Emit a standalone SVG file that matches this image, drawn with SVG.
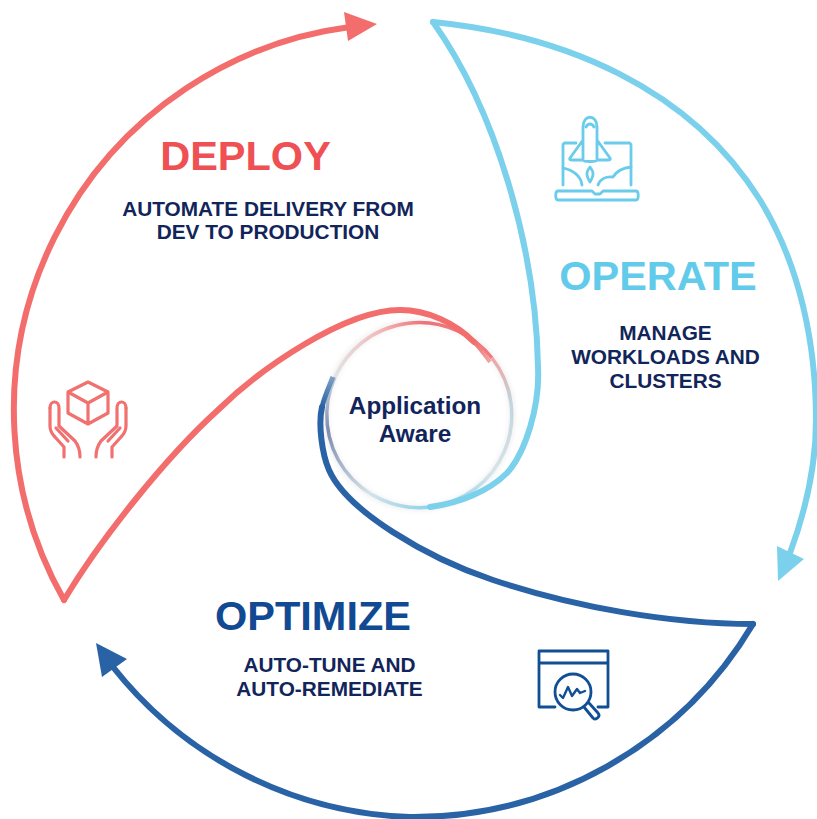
<svg xmlns="http://www.w3.org/2000/svg" width="817" height="819" viewBox="0 0 817 819">
<style>
.c{fill:none;stroke-width:6;stroke-linejoin:round;stroke-linecap:round}
.i{fill:none;stroke-width:2.8;stroke-linecap:round;stroke-linejoin:round}
.t{font-family:"Liberation Sans",Arial,sans-serif;font-weight:700;text-anchor:middle}
.h{font-size:41.5px}
.s{font-size:20.8px;fill:#12255a}
.r{fill:none;stroke-width:3.5}
</style>
<defs>
<linearGradient id="gr" gradientUnits="userSpaceOnUse" x1="492" y1="358" x2="335" y2="377"><stop offset="0" stop-color="#ef7a7c"/><stop offset=".4" stop-color="#ee7276"/><stop offset=".7" stop-color="#f2bcbc"/><stop offset="1" stop-color="#e3e3e6"/></linearGradient>
<linearGradient id="gl" gradientUnits="userSpaceOnUse" x1="492" y1="358" x2="430" y2="507"><stop offset="0" stop-color="#f0a5a8"/><stop offset=".2" stop-color="#c2d5dc"/><stop offset=".65" stop-color="#d7e4ea"/><stop offset="1" stop-color="#86d2ea"/></linearGradient>
<linearGradient id="gb" gradientUnits="userSpaceOnUse" x1="440" y1="507" x2="327" y2="385"><stop offset="0" stop-color="#86d2ea"/><stop offset=".35" stop-color="#d5e3ea"/><stop offset=".8" stop-color="#7d8cb0"/><stop offset="1" stop-color="#c9d3dd"/></linearGradient>
<linearGradient id="gd" gradientUnits="userSpaceOnUse" x1="322" y1="407" x2="333" y2="377"><stop offset="0" stop-color="#2a62a6"/><stop offset="1" stop-color="#7fa0c4"/></linearGradient>
<linearGradient id="gt" gradientUnits="userSpaceOnUse" x1="474" y1="342" x2="490" y2="362"><stop offset="0" stop-color="#f26d6c"/><stop offset="1" stop-color="#f3a5a6"/></linearGradient>
<filter id="soft" x="-10%" y="-10%" width="120%" height="120%"><feGaussianBlur stdDeviation=".7"/></filter>
<filter id="halo" x="-10%" y="-10%" width="120%" height="120%"><feGaussianBlur stdDeviation="2"/></filter>
</defs>
<g id="hub-ring">
<circle cx="419" cy="415" r="93" fill="none" stroke="#000" stroke-opacity=".05" stroke-width="7" filter="url(#halo)"/>
<g filter="url(#soft)">
<path class="r" stroke="url(#gr)" d="M492 358A92.5 92.5 0 0 0 335 377"/>
<path class="r" stroke="url(#gl)" d="M492 358A92.5 92.5 0 0 1 430 507"/>
<path class="r" stroke="url(#gb)" d="M430 507A92.5 92.5 0 0 1 335 377"/>
</g>
</g>
<g id="connectors">
<g id="deploy-arc">
<path class="c" stroke="#f26d6c" d="M64 600A386 386 0 0 1 350 27"/>
<path class="c" stroke="#f26d6c" d="M64 600C100 540 165 458 218 410C261 368 345 310 400 310C428 310 455 323 474 342"/>
<path fill="none" stroke="url(#gt)" stroke-width="4" d="M474 342C480 348 485 355 490 362"/>
<polygon points="344,12 377,24 348,41" fill="#f26d6c"/>
</g>
<g id="operate-arc">
<path class="c" stroke="#7bd0ec" d="M433 22C564 35 690 88 760 200C800 265 816 344 816 420C816 465 805.5 511 790 553"/>
<path class="c" stroke="#7bd0ec" d="M433 22C497 112 536 250 538 367C540 405 526 452 507 473C489 491 460 503 430 507"/>
<polygon points="777,546 804,559 778,581" fill="#7bd0ec"/>
</g>
<g id="optimize-arc">
<path class="c" stroke="#2a62a6" d="M753 624A395 395 0 0 1 410 817A395 395 0 0 1 113 667"/>
<path class="c" stroke="#2a62a6" d="M753 624C670 624 574 607 493 580C427 558 347 511 329 470C322 454 318 424 322 407"/>
<path fill="none" stroke="url(#gd)" stroke-width="5" d="M322 407C325 395 329 387 333 377"/>
<polygon points="96,643 127,659 102,677" fill="#2a62a6"/>
</g>
</g>
<g id="hub">
<text class="t" x="415" y="414" font-size="24.3" fill="#12255a">Application</text>
<text class="t" x="415" y="442" font-size="24.3" fill="#12255a">Aware</text>
</g>
<g id="deploy">
<text class="t h" x="245.5" y="170" fill="#ef5053">DEPLOY</text>
<text class="t s" x="268" y="216">AUTOMATE DELIVERY FROM</text>
<text class="t s" x="268" y="239">DEV TO PRODUCTION</text>
<g class="i" stroke="#f0716f" stroke-width="3.2" style="stroke-width:3.2">
<path d="M88 382L108 392V413L88 424L68 413V392ZM68 392L88 403L108 392M88 403V424"/>
<path d="M50 408C50 400 59 400 59 408V426L75 441C78 445 80 449 80 457"/>
<path d="M50 408V426C50 431 52 434 55 437L64 447V457"/>
<path d="M56 428L68 441"/>
<path d="M126 408C126 400 117 400 117 408V426L101 441C98 445 96 449 96 457"/>
<path d="M126 408V426C126 431 124 434 121 437L112 447V457"/>
<path d="M120 428L108 441"/>
</g>
</g>
<g id="operate">
<text class="t h" x="658" y="290" fill="#63cbea">OPERATE</text>
<text class="t s" x="665.5" y="340">MANAGE</text>
<text class="t s" x="665.5" y="364">WORKLOADS AND</text>
<text class="t s" x="665.5" y="388">CLUSTERS</text>
<g class="i" stroke="#6accea">
<path d="M576 143H565C564 143 563 144 563 145V185M605 143H629C630 143 631 144 631 145V185"/>
<path d="M558 191H592L595 194H600L603 191H636C639 191 639 200 636 200H558C555 200 555 191 558 191Z"/>
<path d="M583 160V127C583 114 597 114 597 127V160C597 162 583 162 583 160ZM583 140L570 158C569 160 571 160 572 160H583M597 140L610 158C611 160 609 160 608 160H597M586 127C588 123 592 123 594 127"/>
<path d="M590 167C587 171 585 174 590 182C595 174 593 171 590 167Z"/>
<path d="M563 168C573 170 581 176 582 185M598 185C600 179 606 176 613 177C616 172 622 168 631 167"/>
</g>
</g>
<g id="optimize">
<text class="t h" x="313" y="630" fill="#114a92">OPTIMIZE</text>
<text class="t s" x="329.5" y="672">AUTO-TUNE AND</text>
<text class="t s" x="329.5" y="696">AUTO-REMEDIATE</text>
<g class="i" stroke="#114f94">
<path d="M555 707H539V651H608V707H598M539 663H608"/>
<circle cx="573" cy="692" r="18"/>
<path d="M584 707L593 718C596 721 601 716 598 713L589 703"/>
<path stroke-width="2.4" d="M560 695L563 698L568 687L572 696L577 689L580 693L585 691"/>
</g>
</g>
</svg>
